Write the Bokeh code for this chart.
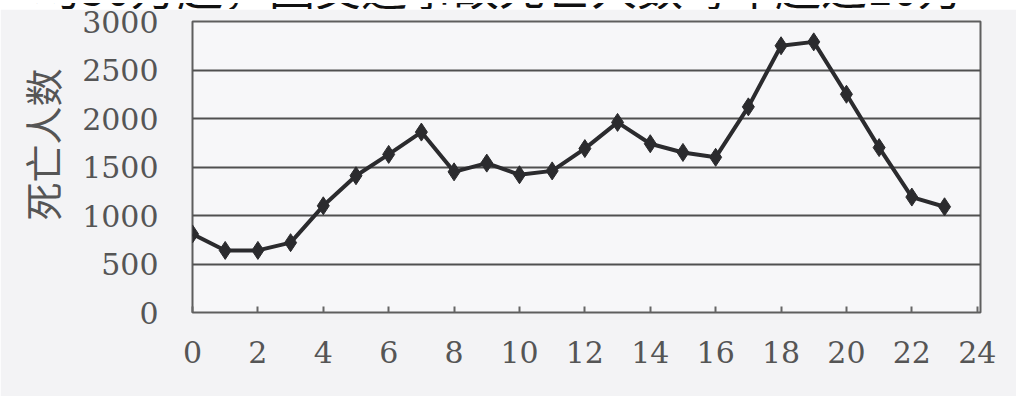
from bokeh.plotting import figure
from bokeh.models import FixedTicker, Range1d, Title, Div
from bokeh.layouts import column
from bokeh.embed import file_html
from bokeh.resources import INLINE

# Hour of day and deaths recorded in that hour
hours = list(range(24))
deaths = [810, 640, 640, 720, 1100, 1410, 1630, 1860, 1450, 1540, 1420, 1460,
          1690, 1960, 1740, 1650, 1600, 2120, 2750, 2790, 2250, 1700, 1190, 1090]

x_ticks = [0, 2, 4, 6, 8, 10, 12, 14, 16, 18, 20, 22, 24]
y_ticks = [0, 500, 1000, 1500, 2000, 2500, 3000]

y_title = "死亡人数"
headline = "均30万起，因交通事故死亡人数每年超过10万"

W = 1016
HEAD_H = 9
MAIN_H = 387

# Thin strip holding the tail end of the preceding sentence
head = Div(
    width=W, height=HEAD_H,
    text=(
        '<div style="position:relative;width:%dpx;height:%dpx;overflow:hidden;'
        'background:#ffffff;margin:0;padding:0;">'
        '<span style="position:absolute;left:34px;top:-41px;'
        "font-family:'Noto Sans CJK SC';font-size:46px;line-height:46px;"
        'white-space:nowrap;color:#111111;">%s</span></div>'
    ) % (W, HEAD_H, headline),
    styles={"margin": "0", "padding": "0", "overflow": "hidden"},
)

p = figure(width=W, height=MAIN_H, output_backend="svg", toolbar_location=None,
           x_range=Range1d(0, 24.1), y_range=Range1d(0, 3000),
           min_border_left=191, min_border_right=36,
           min_border_top=12, min_border_bottom=84)

p.background_fill_color = "#f7f7f9"
p.border_fill_color = "#f3f3f5"
p.outline_line_color = "#5e5e5e"
p.outline_line_width = 2

p.xgrid.grid_line_color = None
p.ygrid.grid_line_color = "#505050"
p.ygrid.grid_line_width = 2

p.xaxis.ticker = FixedTicker(ticks=x_ticks)
p.yaxis.ticker = FixedTicker(ticks=y_ticks)

for ax in (p.xaxis, p.yaxis):
    ax.axis_line_color = None
    ax.minor_tick_line_color = None
    ax.major_label_text_font = "DejaVu Serif"
    ax.major_label_text_font_size = "30px"
    ax.major_label_text_color = "#555555"

p.xaxis.major_tick_in = 6
p.xaxis.major_tick_out = 0
p.xaxis.major_tick_line_color = "#666666"
p.xaxis.major_tick_line_width = 2
p.xaxis.major_label_standoff = 28

p.yaxis.major_tick_line_color = None
p.yaxis.major_tick_in = 0
p.yaxis.major_tick_out = 0
p.yaxis.major_label_standoff = 34

p.line(hours, deaths, line_color="#2b2b2e", line_width=4)
p.scatter(hours, deaths, marker="diamond", size=18,
          fill_color="#2b2b2e", line_color="#2b2b2e")

p.add_layout(Title(text=y_title, align="left", offset=92, standoff=22,
                   text_font="Noto Sans CJK SC", text_font_size="38px",
                   text_font_style="normal", text_color="#555555"), "left")

layout = column(head, p, spacing=0)
open("out.html", "w").write(file_html(layout, INLINE))
